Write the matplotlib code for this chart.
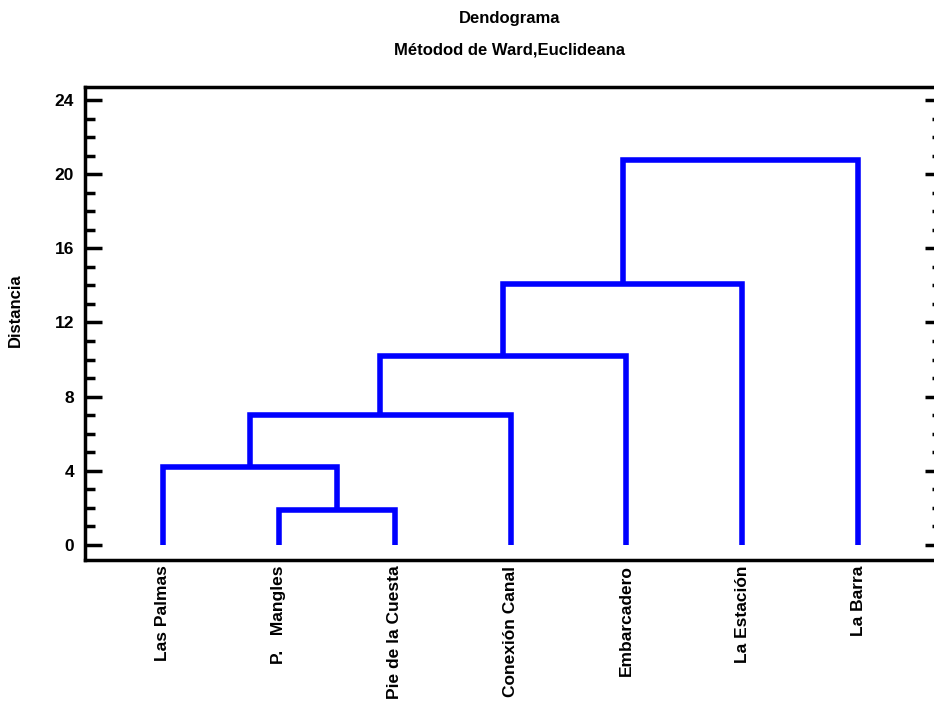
import matplotlib
matplotlib.use("Agg")
import matplotlib.pyplot as plt
from matplotlib.ticker import MultipleLocator

plt.rcParams['font.family'] = ['Liberation Sans', 'DejaVu Sans']
plt.rcParams['font.weight'] = 'bold'

leaves = ["Las Palmas", "P.   Mangles", "Pie de la Cuesta", "Conexión Canal",
          "Embarcadero", "La Estación", "La Barra"]
# merges: (left cluster id, right cluster id, distance); leaves are 0..6, new clusters 7..
merges = [(1, 2, 1.9), (0, 7, 4.2), (8, 3, 7.0), (9, 4, 10.2), (10, 5, 14.1), (11, 6, 20.75)]
yticks = [0, 4, 8, 12, 16, 20, 24]

fig = plt.figure(figsize=(9.34, 7.12), dpi=100)
ax = fig.add_axes([85/934, 1-560/712, 851/934, (560-87)/712])

pos = {i: i + 1 for i in range(len(leaves))}
hgt = {i: 0.0 for i in range(len(leaves))}
for k, (a, b, d) in enumerate(merges):
    nid = len(leaves) + k
    xa, xb = pos[a], pos[b]
    ax.plot([xa, xa, xb, xb], [hgt[a], d, d, hgt[b]], color='#0000ff', lw=4.0,
            solid_joinstyle='miter', solid_capstyle='butt', clip_on=False)
    pos[nid] = (xa + xb) / 2
    hgt[nid] = d

ax.set_xlim(0.33, 7.67)
ax.set_ylim(-0.81, 24.7)
ax.set_xticks(range(1, len(leaves) + 1))
ax.set_xticklabels(leaves, rotation=90, fontsize=12.5, fontweight='bold', va='top')
ax.tick_params(axis='x', length=0, pad=4)
ax.set_yticks(yticks)
ax.yaxis.set_minor_locator(MultipleLocator(1))
ax.tick_params(axis='y', which='major', direction='in', length=12, width=2.5,
               labelsize=12.5, pad=8, left=True, right=False)
ax.tick_params(axis='y', which='minor', direction='in', length=7, width=2.5,
               left=True, right=False)
for lab in ax.get_yticklabels():
    lab.set_fontweight('bold')

ax2 = ax.twinx()
ax2.set_ylim(ax.get_ylim())
ax2.set_yticks(yticks)
ax2.yaxis.set_minor_locator(MultipleLocator(1))
ax2.tick_params(axis='y', which='major', direction='in', length=8, width=2.5,
                labelright=False)
ax2.tick_params(axis='y', which='minor', direction='in', length=3, width=2.5)
for s in ['left', 'right', 'top', 'bottom']:
    ax2.spines[s].set_visible(False)

ax.spines['right'].set_visible(False)
for s in ['left', 'top', 'bottom']:
    ax.spines[s].set_linewidth(2.5)

ax.set_ylabel("Distancia", fontsize=12, fontweight='bold')
ax.yaxis.set_label_coords(-62/851, 0.528)

fig.text(510/934, 1-18/712, "Dendograma", ha='center', va='center', fontsize=12, fontweight='bold')
fig.text(510/934, 1-50/712, "Métodod de Ward,Euclideana", ha='center', va='center', fontsize=12, fontweight='bold')

fig.savefig("out.png", dpi=100)
